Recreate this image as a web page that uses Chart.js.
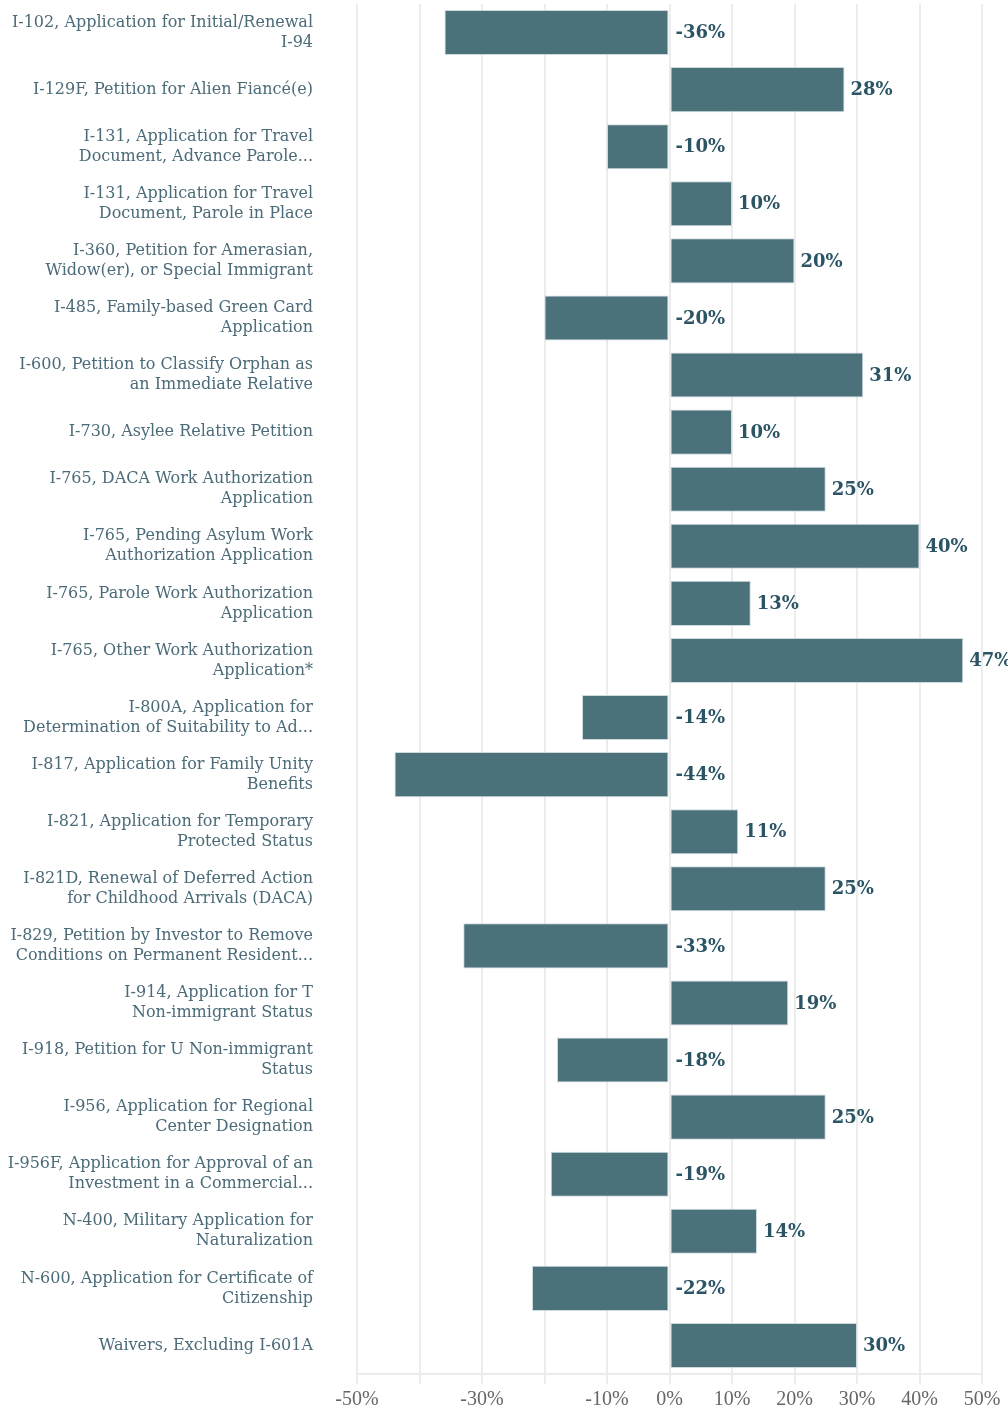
<!DOCTYPE html>
<html>
<head>
<meta charset="utf-8">
<script src="https://cdn.jsdelivr.net/npm/chart.js@4"></script>
<style>
  body { margin: 0; background: #fff; }
  #wrap { width: 1008px; height: 1412px; position: relative; }
</style>
</head>
<body>
<div id="wrap"><canvas id="changeChart"></canvas></div>
<script>
const categories = [
    ["I-102, Application for Initial/Renewal", "I-94"],
    "I-129F, Petition for Alien Fiancé(e)",
    ["I-131, Application for Travel", "Document, Advance Parole..."],
    ["I-131, Application for Travel", "Document, Parole in Place"],
    ["I-360, Petition for Amerasian,", "Widow(er), or Special Immigrant"],
    ["I-485, Family-based Green Card", "Application"],
    ["I-600, Petition to Classify Orphan as", "an Immediate Relative"],
    "I-730, Asylee Relative Petition",
    ["I-765, DACA Work Authorization", "Application"],
    ["I-765, Pending Asylum Work", "Authorization Application"],
    ["I-765, Parole Work Authorization", "Application"],
    ["I-765, Other Work Authorization", "Application*"],
    ["I-800A, Application for", "Determination of Suitability to Ad..."],
    ["I-817, Application for Family Unity", "Benefits"],
    ["I-821, Application for Temporary", "Protected Status"],
    ["I-821D, Renewal of Deferred Action", "for Childhood Arrivals (DACA)"],
    ["I-829, Petition by Investor to Remove", "Conditions on Permanent Resident..."],
    ["I-914, Application for T", "Non-immigrant Status"],
    ["I-918, Petition for U Non-immigrant", "Status"],
    ["I-956, Application for Regional", "Center Designation"],
    ["I-956F, Application for Approval of an", "Investment in a Commercial..."],
    ["N-400, Military Application for", "Naturalization"],
    ["N-600, Application for Certificate of", "Citizenship"],
    "Waivers, Excluding I-601A"
];
const changePct = [-36, 28, -10, 10, 20, -20, 31, 10, 25, 40, 13, 47, -14, -44, 11, 25, -33, 19, -18, 25, -19, 14, -22, 30];
const shownTicks = [-50, -30, -10, 0, 10, 20, 30, 40, 50];

// value labels next to the bars (right of bar end, or right of zero for negatives)
const valueLabels = {
    id: 'valueLabels',
    afterDatasetsDraw(chart) {
        const ctx = chart.ctx;
        const x = chart.scales.x;
        const meta = chart.getDatasetMeta(0);
        ctx.save();
        ctx.font = 'bold 18px "DejaVu Serif", serif';
        ctx.fillStyle = '#2b5464';
        ctx.textAlign = 'left';
        ctx.textBaseline = 'middle';
        meta.data.forEach((bar, i) => {
            const v = changePct[i];
            const px = x.getPixelForValue(Math.max(0, v)) + 6;
            ctx.fillText(v + '%', px, bar.y + 1);
        });
        ctx.restore();
    }
};

const ctxChange = document.getElementById('changeChart').getContext('2d');
const changeChart = new Chart(ctxChange, {
    type: 'bar',
    data: {
        labels: categories,
        datasets: [{
            data: changePct,
            backgroundColor: '#4b717b',
            borderColor: 'rgba(200, 215, 220, 0.9)',
            borderWidth: 1,
            borderSkipped: false,
            barPercentage: 0.79,
            categoryPercentage: 1
        }]
    },
    options: {
        indexAxis: 'y',
        responsive: true,
        maintainAspectRatio: false,
        animation: false,
        layout: {
            padding: { top: 4, right: 26, bottom: 0, left: 0 }
        },
        scales: {
            x: {
                min: -50,
                max: 50,
                afterFit: (scale) => { scale.height = 38; },
                ticks: {
                    stepSize: 10,
                    autoSkip: false,
                    maxRotation: 0,
                    color: '#666',
                    padding: 4,
                    font: { family: '"Liberation Serif", serif', size: 20 },
                    callback: (v) => shownTicks.includes(v) ? v + '%' : ''
                },
                grid: {
                    color: '#ececec',
                    lineWidth: 2,
                    tickLength: 10
                },
                border: { color: '#ececec', width: 2 }
            },
            y: {
                afterFit: (scale) => {
                    scale.width = 357;
                    scale.paddingTop = 0;
                    scale.paddingBottom = 0;
                },
                ticks: {
                    color: '#4b6b78',
                    padding: 0,
                    font: { family: '"DejaVu Serif", serif', size: 16, lineHeight: '20px' }
                },
                grid: { display: false, drawTicks: true, tickLength: 44 },
                border: { display: false }
            }
        },
        plugins: {
            legend: { display: false },
            tooltip: { enabled: false }
        }
    },
    plugins: [valueLabels]
});
</script>
</body>
</html>
